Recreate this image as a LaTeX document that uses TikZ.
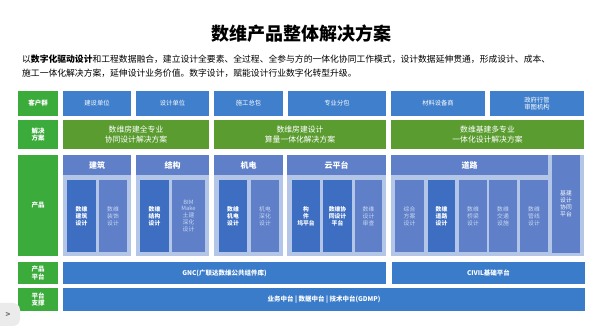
\documentclass[tikz,border=0pt]{standalone}
\usepackage{fontspec}
\setmainfont{Noto Sans CJK SC}
\usepackage{xcolor}
\usetikzlibrary{positioning}
\definecolor{labgreen}{HTML}{3BAB3C}
\definecolor{cusblue}{HTML}{3F7FCC}
\definecolor{solgreen}{HTML}{5B9C30}
\definecolor{grpblue}{HTML}{5F80C8}
\definecolor{bglight}{HTML}{B4C6E8}
\definecolor{subdark}{HTML}{3D6EC2}
\definecolor{subtext}{HTML}{CAD6F2}
\definecolor{platblue}{HTML}{3B7CCA}

\begin{document}
\begin{tikzpicture}[x=1pt,y=-1pt,
  lbl/.style={fill=labgreen,text=white,font=\fontsize{6.5}{7.5}\selectfont\bfseries,minimum width=40pt,inner sep=0pt,align=center},
  cus/.style={fill=cusblue,text=white,font=\fontsize{6.3}{7.5}\selectfont,minimum height=25pt,inner sep=0pt,align=center},
  sol/.style={fill=solgreen,text=white,font=\fontsize{7.8}{9.5}\selectfont,minimum height=29pt,inner sep=0pt,align=center},
  bg/.style={fill=bglight,minimum height=101pt,inner sep=0pt},
  hd/.style={fill=grpblue,text=white,font=\fontsize{8}{9}\selectfont\bfseries,minimum height=20pt,inner sep=0pt,anchor=north},
  sub/.style={fill=grpblue,text=subtext,font=\fontsize{5.8}{6.9}\selectfont,minimum height=72pt,inner sep=0pt,align=center},
  subd/.style={sub,fill=subdark,text=white,font=\fontsize{5.8}{6.9}\selectfont\bfseries},
  plat/.style={fill=platblue,text=white,font=\fontsize{6.5}{7.5}\selectfont\bfseries,inner sep=0pt,align=center}]
\useasboundingbox (0,0) rectangle (600,336);
\fill[white] (0,0) rectangle (600,336);

% title and intro
\node[font=\fontsize{18}{20}\selectfont\bfseries] (title) at (301,34) {数维产品整体解决方案};
\node[anchor=north west,align=left,inner sep=0pt,font=\fontsize{8.8}{14}\selectfont] (intro) at (22,55)
  {以\textbf{数字化驱动设计}和工程数据融合，建立设计全要素、全过程、全参与方的一体化协同工作模式，设计数据延伸贯通，形成设计、成本、\\
   施工一体化解决方案，延伸设计业务价值。数字设计，赋能设计行业数字化转型升级。};

% row labels
\node[lbl,minimum height=25pt] (l1) at (38,103.5) {客户群};
\node[lbl,minimum height=29pt] (l2) at (38,134.5) {解决\\方案};
\node[lbl,minimum height=101pt] (l3) at (38,205.5) {产品};
\node[lbl,minimum height=22pt] (l4) at (38,273) {产品\\平台};
\node[lbl,minimum height=23pt] (l5) at (38,299.5) {平台\\支撑};

% customers
\foreach \c/\w/\t [count=\i] in {97/68/建设单位,172.5/73/设计单位,248.5/69/施工总包,
    337/98/专业分包,438/94/材料设备商,537/94/{政府行管\\审图机构}}
  \node[cus,minimum width=\w] (c\i) at (\c,103.5) {\t};

% solutions
\node[sol,minimum width=146] (s1) at (136,134.5) {数维房建全专业\\协同设计解决方案};
\node[sol,minimum width=172] (s2) at (300,134.5) {数维房建设计\\算量一体化解决方案};
\node[sol,minimum width=193] (s3) at (487.5,134.5) {数维基建多专业\\一体化设计解决方案};

% product groups
\node[bg,minimum width=68] (g1) at (97,205.5) {};
\node[bg,minimum width=73] (g2) at (172.5,205.5) {};
\node[bg,minimum width=69] (g3) at (248.5,205.5) {};
\node[bg,minimum width=99] (g4) at (336.5,205.5) {};
\node[bg,minimum width=193] (g5) at (487.5,205.5) {};
\node[hd,minimum width=68] (h1) at (g1.north) {建筑};
\node[hd,minimum width=73] (h2) at (g2.north) {结构};
\node[hd,minimum width=69] (h3) at (g3.north) {机电};
\node[hd,minimum width=99] (h4) at (g4.north) {云平台};
\node[hd,minimum width=157] (h5) at (469.5,155) {道路};

\node[subd,minimum width=29] (b1) at (81.5,216) {数维\\建筑\\设计};
\node[sub,minimum width=28] (b2) at (113,216) {数维\\装饰\\设计};
\node[subd,minimum width=29] (t1) at (154.5,216) {数维\\结构\\设计};
\node[sub,minimum width=33] (t2) at (188.5,216) {BIM\\Make\\土建\\深化\\设计};
\node[subd,minimum width=28] (m1) at (233,216) {数维\\机电\\设计};
\node[sub,minimum width=28] (m2) at (265,216) {机电\\深化\\设计};
\node[subd,minimum width=28] (y1) at (306,216) {构\\件\\坞平台};
\node[subd,minimum width=29] (y2) at (337.5,216) {数维协\\同设计\\平台};
\node[sub,minimum width=27] (y3) at (368.5,216) {数维\\设计\\审查};
\node[sub,minimum width=29] (r1) at (409.5,216) {综合\\方案\\设计};
\node[subd,minimum width=27] (r2) at (441.5,216) {数维\\道路\\设计};
\node[sub,minimum width=28] (r3) at (473,216) {数维\\桥梁\\设计};
\node[sub,minimum width=28] (r4) at (503,216) {数维\\交通\\设施};
\node[sub,minimum width=28] (r5) at (534,216) {数维\\管线\\设计};
\node[sub,minimum width=28,minimum height=98,text=white] (jj) at (566,204) {基建\\设计\\协同\\平台};

% platforms
\node[plat,minimum width=323,minimum height=22] (p1) at (224.5,273) {GNC(广联达数维公共组件库)};
\node[plat,minimum width=193,minimum height=22] (p2) at (488.5,273) {CIVIL基础平台};
\node[plat,minimum width=522,minimum height=23] (p3) at (324,299.5) {业务中台 | 数据中台 | 技术中台(GDMP)};

% side button
\fill[black!8,rounded corners=7pt] (-12,303) rectangle (20,326);
\node[text=black!55,font=\fontsize{8}{8}\selectfont\bfseries] (nav) at (8,314.5) {>};
\end{tikzpicture}
\end{document}
